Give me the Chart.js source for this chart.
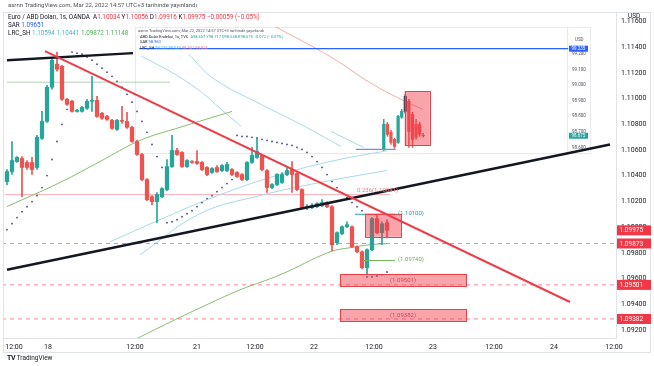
<!DOCTYPE html>
<html lang="tr">
<head>
<meta charset="utf-8">
<title>Euro / ABD Doları, 1s</title>
<script src="https://cdn.jsdelivr.net/npm/chart.js@4.4.1/dist/chart.umd.min.js"></script>
<style>
  body { margin: 0; background: #fff; }
  #wrap { position: relative; width: 654px; height: 366px; overflow: hidden; font-family: Roboto, "Noto Sans", sans-serif; }
  #chart { position: absolute; left: 0; top: 0; }
  .t { position: absolute; white-space: nowrap; color: #131722; line-height: 1; }
  .up { color: #26a69a; }
  .down { color: #f23645; }
</style>
</head>
<body>
<div id="wrap">
  <canvas id="chart" width="654" height="366"></canvas>
  <div class="t" style="left:8px;top:2px;font-size:6px;color:#50535e">asrnn TradingView.com, Mar 22, 2022 14:57 UTC+3 tarihinde yayınlandı</div>
  <div class="t" id="legend1" style="left:8px;top:14px;font-size:6.3px"></div>
  <div class="t" id="legend2" style="left:8px;top:22px;font-size:6.3px"></div>
  <div class="t" id="legend3" style="left:8px;top:30px;font-size:6.3px"></div>
  <div class="t" style="left:138px;top:28.5px;font-size:4px;color:#50535e">asrnn TradingView.com, Mar 22, 2022 14:57 UTC+3 tarihinde yayınlandı</div>
  <div class="t" id="insetLegend1" style="left:140px;top:35px;font-size:4px"></div>
  <div class="t" id="insetLegend2" style="left:140px;top:40px;font-size:4px"></div>
  <div class="t" id="insetLegend3" style="left:140px;top:46px;font-size:4px"></div>
  <div class="t" style="left:7px;top:355px;font-size:7px"><b style="letter-spacing:-0.5px">TV</b> <span style="font-size:6.5px">TradingView</span></div>
</div>
<script>
// EURUSD hourly bars (x = bar position on the hour axis)
const candleStart = 1.4;
const opens = [1.10354, 1.10432, 1.10510, 1.10534, 1.10503, 1.10503, 1.10464, 1.10690, 1.10822, 1.11088,
  1.11267, 1.11251, 1.10994, 1.10978, 1.10900, 1.10900, 1.10924, 1.10978, 1.10986, 1.10885,
  1.10861, 1.10830, 1.10760, 1.10830, 1.10822, 1.10776, 1.10666, 1.10565, 1.10370, 1.10237,
  1.10198, 1.10237, 1.10292, 1.10471, 1.10596, 1.10581, 1.10471, 1.10510, 1.10510, 1.10503,
  1.10464, 1.10425, 1.10464, 1.10440, 1.10440, 1.10448, 1.10425, 1.10409, 1.10370, 1.10503,
  1.10542, 1.10557, 1.10440, 1.10308, 1.10331, 1.10347, 1.10409, 1.10448, 1.10417, 1.10292,
  1.10152, 1.10152, 1.10159, 1.10167, 1.10191, 1.10159, 1.09879, 1.09949, 1.10003, 1.10003,
  1.09847, 1.09808, 1.09684, 1.09824, 1.10066, 1.09957, 1.10034];
const highs = [1.10448, 1.10666, 1.10549, 1.10549, 1.10518, 1.10542, 1.10713, 1.10900, 1.11103, 1.11314,
  1.11361, 1.11259, 1.11002, 1.10986, 1.10916, 1.10939, 1.10994, 1.11173, 1.11017, 1.10893,
  1.10869, 1.10838, 1.10838, 1.10939, 1.10893, 1.10783, 1.10674, 1.10573, 1.10378, 1.10245,
  1.10269, 1.10308, 1.10526, 1.10713, 1.10612, 1.10588, 1.10526, 1.10518, 1.10596, 1.10510,
  1.10471, 1.10464, 1.10479, 1.10487, 1.10503, 1.10456, 1.10432, 1.10417, 1.10510, 1.10620,
  1.10698, 1.10565, 1.10448, 1.10339, 1.10417, 1.10425, 1.10464, 1.10510, 1.10425, 1.10300,
  1.10175, 1.10183, 1.10191, 1.10214, 1.10198, 1.10167, 1.09964, 1.10011, 1.10042, 1.10011,
  1.09855, 1.09816, 1.09832, 1.10074, 1.10097, 1.10042, 1.10056];
const lows = [1.10331, 1.10409, 1.10503, 1.10237, 1.10448, 1.10409, 1.10448, 1.10682, 1.10815, 1.11072,
  1.11212, 1.10986, 1.10947, 1.10893, 1.10893, 1.10893, 1.10916, 1.10900, 1.10854, 1.10838,
  1.10830, 1.10760, 1.10752, 1.10807, 1.10768, 1.10659, 1.10557, 1.10362, 1.10206, 1.10175,
  1.10035, 1.10230, 1.10284, 1.10464, 1.10557, 1.10464, 1.10464, 1.10495, 1.10487, 1.10440,
  1.10401, 1.10417, 1.10425, 1.10432, 1.10432, 1.10401, 1.10386, 1.10362, 1.10362, 1.10495,
  1.10534, 1.10440, 1.10269, 1.10300, 1.10323, 1.10339, 1.10401, 1.10269, 1.10284, 1.10144,
  1.10136, 1.10144, 1.10152, 1.10159, 1.10152, 1.09816, 1.09863, 1.09941, 1.09996, 1.09840,
  1.09801, 1.09676, 1.09629, 1.09816, 1.09949, 1.09863, 1.09916];
const closes = [1.10432, 1.10518, 1.10542, 1.10464, 1.10464, 1.10448, 1.10698, 1.10822, 1.11088, 1.11298,
  1.11228, 1.10994, 1.10955, 1.10900, 1.10908, 1.10931, 1.10978, 1.10986, 1.10861, 1.10846,
  1.10838, 1.10768, 1.10830, 1.10822, 1.10776, 1.10666, 1.10565, 1.10370, 1.10214, 1.10198,
  1.10253, 1.10300, 1.10471, 1.10596, 1.10565, 1.10471, 1.10518, 1.10503, 1.10495, 1.10448,
  1.10409, 1.10456, 1.10432, 1.10479, 1.10487, 1.10409, 1.10393, 1.10370, 1.10503, 1.10557,
  1.10588, 1.10448, 1.10308, 1.10331, 1.10409, 1.10409, 1.10440, 1.10409, 1.10292, 1.10152,
  1.10159, 1.10167, 1.10183, 1.10191, 1.10159, 1.09863, 1.09957, 1.10003, 1.10019, 1.09847,
  1.09808, 1.09684, 1.09824, 1.10066, 1.09957, 1.10027, 1.09975];
// Parabolic SAR, one value per bar
const sar = [1.09980, 1.10027, 1.10074, 1.10120, 1.10159, 1.10198, 1.10245, 1.10308, 1.10401, 1.10526,
  1.10666, 1.10799, 1.10916, 1.11361, 1.11353, 1.11345, 1.11322, 1.11298, 1.11267, 1.11236,
  1.11205, 1.11173, 1.11134, 1.11088, 1.11033, 1.10971, 1.10900, 1.10822, 1.10737, 1.10643,
  1.10549, 1.10464, 1.10035, 1.10042, 1.10058, 1.10081, 1.10105, 1.10128, 1.10159, 1.10191,
  1.10222, 1.10245, 1.10276, 1.10308, 1.10339, 1.10370, 1.10713, 1.10705, 1.10705, 1.10698,
  1.10690, 1.10682, 1.10674, 1.10666, 1.10659, 1.10651, 1.10643, 1.10635, 1.10620, 1.10604,
  1.10581, 1.10549, 1.10510, 1.10464, 1.10409, 1.10354, 1.10308, 1.10269, 1.10230, 1.10191,
  1.10159, 1.10128, 1.09613, 1.09613, 1.09621, 1.09629, 1.09651];

// LRC_SH channel lines
const lrcUpperX = [1.4, 12, 20, 28, 36, 46.4];
const lrcUpperY = [1.10160, 1.10347, 1.10510, 1.10674, 1.10776, 1.10900];
const lrcLowerX = [26, 32, 40, 48, 56, 66, 70, 74, 77.4];
const lrcLowerY = [1.09106, 1.09223, 1.09372, 1.09512, 1.09629, 1.09808, 1.09840, 1.09863, 1.09872];
const lrcBandAX = [22, 32, 42, 54, 66, 77.4];
const lrcBandAY = [1.09886, 1.10058, 1.10222, 1.10386, 1.10510, 1.10594];
const lrcBandBX = [28, 40, 52, 64, 77.4];
const lrcBandBY = [1.09785, 1.10105, 1.10245, 1.10347, 1.10441];

// trend lines drawn on the chart
const topLineX = [1.4, 26.6], topLineY = [1.11298, 1.11353];
const supportX = [1.4, 122], supportY = [1.09668, 1.10643];
const downTrendX = [9, 114], downTrendY = [1.11368, 1.09418];
const peakLevel = 1.11127, peakLevelX = [1.4, 34];
const fibLevel = 1.10253, fibLevelX = [1, 78];
const targetUp = 1.10100, targetUpX = [71, 79];
const targetDown = 1.09740, targetDownX = [72.6, 79];

// horizontal dashed levels and their price tags
const levelValues = [1.09873, 1.09551, 1.09286];
const levelTags = ['1.09873', '1.09501', '1.09382'];
const lastPrice = 1.09975;

const boxes = [
  { from: 68, to: 93.2, top: 1.09637, bottom: 1.09543, text: '(1.09501)' },
  { from: 68, to: 93.2, top: 1.09364, bottom: 1.09270, text: '(1.09382)' },
  { from: 73, to: 80.2, top: 1.10105, bottom: 1.09925, text: '' }
];
const notes = [
  { x: 79.6, y: targetUp, text: '(1.10100)', color: '#26a69a' },
  { x: 79.6, y: targetDown, text: '(1.09740)', color: '#6fb35a' },
  { x: 71.4, y: fibLevel, text: '0.236(1.10041)', color: '#f07b83', above: true }
];

// axes
const timeTickPos = [2.8, 9.6, 27, 39.4, 51, 62.8, 74.8, 86.6, 98.8, 110.8, 122.8];
const timeTickLabels = ['12:00', '18', '12:00', '21', '12:00', '22', '12:00', '23', '12:00', '24', '12:00'];
const priceTicks = [1.092, 1.094, 1.096, 1.098, 1.100, 1.102, 1.104, 1.106, 1.108, 1.110, 1.112, 1.114, 1.116];

// inset: ABD Dolar Endeksi (DXY) hourly
const insetOpen = [98.587, 98.748, 98.697, 98.652, 98.632, 98.794, 98.832, 98.897, 98.813, 98.748, 98.748, 98.677];
const insetHigh = [98.781, 98.761, 98.710, 98.658, 98.806, 98.845, 98.942, 98.910, 98.826, 98.781, 98.761, 98.690];
const insetLow = [98.581, 98.671, 98.619, 98.594, 98.626, 98.787, 98.819, 98.600, 98.600, 98.652, 98.671, 98.665];
const insetClose = [98.748, 98.684, 98.632, 98.606, 98.800, 98.832, 98.929, 98.703, 98.652, 98.665, 98.684, 98.675];
const insetSelected = 6;
const insetLevel = 99.235, insetLevelX = [-68.1, 51.4];
const insetBase = 98.587, insetBaseX = [-7.8, 3.3];
const insetSalmonX = [-30, -14.7, -3.6, 4.7, 10.8];
const insetSalmonY = [99.374, 99.181, 99.013, 98.910, 98.845];
const insetBand1X = [-67.5, -57.8, -50.8, -45.3, -39.7];
const insetBand1Y = [99.187, 99.065, 98.955, 98.845, 98.735];
const insetBand2X = [-54.4, -47.2, -34.2, -23.1, -11.9];
const insetBand2Y = [99.200, 99.039, 98.877, 98.748, 98.606];
const insetBand3X = [-14.7, -5.6];
const insetBand3Y = [98.703, 98.600];
const insetBox = { from: 5.8, to: 12.8, top: 98.961, bottom: 98.613 };
const insetTicks = [99.2, 99.1, 99.0, 98.9, 98.8, 98.7, 98.6];
const insetLast = 98.675;

const GREEN = '#26a69a', RED = '#ef5350';

// legends built from the data
const n = closes.length - 1;
document.getElementById('legend1').innerHTML =
  `Euro / ABD Doları, 1s, OANDA&nbsp; A<span class="down">${opens[n].toFixed(5)}</span> Y<span class="down">${highs[n].toFixed(5)}</span> ` +
  `D<span class="down">${lows[n].toFixed(5)}</span> K<span class="down">${closes[n].toFixed(5)}</span> <span class="down">−0.00059 (−0.05%)</span>`;
document.getElementById('legend2').innerHTML = `SAR <span style="color:#2962ff">${sar[n].toFixed(5)}</span>`;
document.getElementById('legend3').innerHTML =
  `LRC_SH <span style="color:#4fb0d8">${lrcBandAY[lrcBandAY.length - 1].toFixed(5)}</span> <span style="color:#4fb0d8">${lrcBandBY[lrcBandBY.length - 1].toFixed(5)}</span> ` +
  `<span style="color:#4caf50">${lrcLowerY[lrcLowerY.length - 1].toFixed(5)}</span> <span style="color:#4caf50">1.11148</span>`;
document.getElementById('insetLegend1').innerHTML =
  'ABD Dolar Endeksi, 1s, TVC&nbsp; <span class="up">A98.607 Y98.717 D98.638 K98.675 −0.072 (−0.07%)</span>';
document.getElementById('insetLegend2').innerHTML = 'SAR <span style="color:#2962ff">98.960</span>';
document.getElementById('insetLegend3').innerHTML =
  'LRC_SH <span style="color:#4fb0d8">99.235 99.049</span> <span style="color:#f07b83">98.941 98.824</span>';

function pts(xs, ys) {
  return xs.map((x, i) => ({ x, y: ys[i] }));
}
function flat(xs, v) {
  return xs.map(x => ({ x, y: v }));
}
function line(data, color, width, extra) {
  return Object.assign({ type: 'line', data, borderColor: color, borderWidth: width, pointRadius: 0, fill: false }, extra || {});
}

const candleColors = closes.map((c, i) => c >= opens[i] ? GREEN : RED);
const insetColors = insetClose.map((c, i) => i === insetSelected ? '#3b4252' : (c >= insetOpen[i] ? GREEN : RED));

const datasets = [
  // drawings on top
  line(pts(downTrendX, downTrendY), '#ee3d48', 2, { order: 1 }),
  line(pts(topLineX, topLineY), '#131722', 2.5, { order: 1 }),
  line(pts(supportX, supportY), '#131722', 2.5, { order: 1 }),
  line(flat(targetUpX, targetUp), '#26a69a', 1, { order: 2 }),
  line(flat(targetDownX, targetDown), '#6fb35a', 1, { order: 2 }),
  ...levelValues.map(v => line(flat([0.4, 123.2], v), 'rgba(242,54,69,0.6)', 1, { order: 2, borderDash: [4, 4] })),
  // candles
  {
    type: 'bar', data: highs.map((h, i) => ({ x: candleStart + i, y: [lows[i], h] })),
    backgroundColor: candleColors, barThickness: 1, grouped: false, order: 5
  },
  {
    type: 'bar', data: opens.map((o, i) => ({ x: candleStart + i, y: [o, closes[i]] })),
    backgroundColor: candleColors, barThickness: 3.6, grouped: false, order: 4
  },
  // indicators
  line(sar.map((v, i) => ({ x: candleStart + i, y: v })), '#3f4d8c', 0,
    { showLine: false, pointRadius: 0.9, pointBackgroundColor: '#3f4d8c', pointBorderWidth: 0, order: 6 }),
  line(pts(lrcUpperX, lrcUpperY), '#86bd6f', 1, { tension: 0.4, order: 8 }),
  line(pts(lrcLowerX, lrcLowerY), '#86bd6f', 1, { tension: 0.4, order: 8 }),
  line(pts(lrcBandAX, lrcBandAY), '#a9d8ea', 1, { tension: 0.4, order: 8 }),
  line(pts(lrcBandBX, lrcBandBY), '#a9d8ea', 1, { tension: 0.4, order: 8 }),
  line(flat(peakLevelX, peakLevel), 'rgba(120,170,120,0.55)', 1, { order: 8 }),
  line(flat(fibLevelX, fibLevel), 'rgba(242,54,69,0.4)', 1, { order: 8 }),
  // inset (DXY)
  line(flat(insetLevelX, insetLevel), '#2962ff', 1.3, { xAxisID: 'x2', yAxisID: 'y2', order: 3 }),
  line(flat(insetBaseX, insetBase), '#6f8fe8', 1.3, { xAxisID: 'x2', yAxisID: 'y2', order: 3 }),
  line(pts(insetSalmonX, insetSalmonY), 'rgba(226,120,112,0.6)', 1, { xAxisID: 'x2', yAxisID: 'y2', tension: 0.4, order: 9 }),
  line(pts(insetBand1X, insetBand1Y), 'rgba(150,205,225,0.8)', 1, { xAxisID: 'x2', yAxisID: 'y2', tension: 0.4, order: 9 }),
  line(pts(insetBand2X, insetBand2Y), 'rgba(150,205,225,0.8)', 1, { xAxisID: 'x2', yAxisID: 'y2', tension: 0.4, order: 9 }),
  line(pts(insetBand3X, insetBand3Y), 'rgba(150,205,225,0.8)', 1, { xAxisID: 'x2', yAxisID: 'y2', order: 9 }),
  {
    type: 'bar', xAxisID: 'x2', yAxisID: 'y2', data: insetHigh.map((h, i) => ({ x: i, y: [insetLow[i], h] })),
    backgroundColor: insetColors, barThickness: 0.8, grouped: false, order: 5
  },
  {
    type: 'bar', xAxisID: 'x2', yAxisID: 'y2', data: insetOpen.map((o, i) => ({ x: i, y: [o, insetClose[i]] })),
    backgroundColor: insetColors, barThickness: 2.6, grouped: false, order: 4
  }
];

function rect(ctx, xs, ys, b, fill, stroke) {
  const l = xs.getPixelForValue(b.from), r = xs.getPixelForValue(b.to);
  const t = ys.getPixelForValue(b.top), btm = ys.getPixelForValue(b.bottom);
  ctx.fillStyle = fill;
  ctx.fillRect(l, t, r - l, btm - t);
  ctx.strokeStyle = stroke;
  ctx.lineWidth = 1;
  ctx.strokeRect(Math.round(l) + 0.5, Math.round(t) + 0.5, Math.round(r - l), Math.round(btm - t));
  return { cx: (l + r) / 2, cy: (t + btm) / 2 };
}

function tag(ctx, x, y, w, h, bg, text, font) {
  ctx.fillStyle = bg;
  ctx.fillRect(x, y - h / 2, w, h);
  ctx.fillStyle = '#fff';
  ctx.font = font;
  ctx.textAlign = 'left';
  ctx.textBaseline = 'middle';
  ctx.fillText(text, x + 2.5, y + 0.5);
}

const drawings = {
  id: 'drawings',
  beforeDatasetsDraw(chart) {
    const { ctx } = chart;
    ctx.save();
    ctx.strokeStyle = '#e0e3eb';
    ctx.lineWidth = 1;
    ctx.strokeRect(3.5, 12.5, 647, 340);
    ctx.strokeStyle = '#e8eaef';
    ctx.strokeRect(135.5, 27.5, 455, 126);
    ctx.beginPath();
    ctx.moveTo(567.5, 27.5);
    ctx.lineTo(567.5, 153.5);
    ctx.stroke();
    ctx.restore();
  },
  afterDatasetsDraw(chart) {
    const { ctx, scales } = chart;
    ctx.save();
    boxes.forEach(b => {
      const c = rect(ctx, scales.x, scales.y, b, 'rgba(242,54,69,0.45)', '#e8414a');
      if (b.text) {
        ctx.fillStyle = 'rgba(200,40,55,0.75)';
        ctx.font = '6px Roboto';
        ctx.textAlign = 'center';
        ctx.textBaseline = 'middle';
        ctx.fillText(b.text, c.cx, c.cy + 1);
      }
    });
    rect(ctx, scales.x2, scales.y2, insetBox, 'rgba(242,54,69,0.45)', '#e8414a');
    notes.forEach(nt => {
      ctx.fillStyle = nt.color;
      ctx.font = '6px Roboto';
      ctx.textAlign = 'left';
      ctx.textBaseline = 'middle';
      const y = scales.y.getPixelForValue(nt.y) + (nt.above ? -4 : -1);
      ctx.fillText(nt.text, scales.x.getPixelForValue(nt.x), y);
    });
    ctx.restore();
  },
  afterDraw(chart) {
    const { ctx, scales: { y, y2 } } = chart;
    ctx.save();
    ctx.fillStyle = '#131722';
    ctx.font = '6.5px Roboto';
    ctx.textAlign = 'left';
    ctx.textBaseline = 'middle';
    ctx.fillText('USD', 628, 16);
    tag(ctx, 617, y.getPixelForValue(lastPrice), 34, 10, '#f23645', lastPrice.toFixed(5), '6.5px Roboto');
    levelValues.forEach((v, i) => tag(ctx, 617, y.getPixelForValue(v), 34, 10, '#f23645', levelTags[i], '6.5px Roboto'));
    // inset price axis
    ctx.fillStyle = '#50535e';
    ctx.font = '4.5px Roboto';
    ctx.textBaseline = 'middle';
    ctx.fillText('USD', 575, 40);
    insetTicks.forEach(v => ctx.fillText(v.toFixed(3), 572, y2.getPixelForValue(v)));
    tag(ctx, 569, y2.getPixelForValue(insetLevel), 19, 6, '#2962ff', insetLevel.toFixed(3), '4.5px Roboto');
    tag(ctx, 569, y2.getPixelForValue(insetLast), 19, 6, '#26a69a', insetLast.toFixed(3), '4.5px Roboto');
    ctx.restore();
  }
};

new Chart(document.getElementById('chart'), {
  type: 'bar',
  data: { datasets },
  options: {
    responsive: false,
    animation: false,
    events: [],
    layout: { padding: { top: 13, left: 4, right: 0, bottom: 0 } },
    plugins: { legend: { display: false }, tooltip: { enabled: false } },
    scales: {
      x: {
        type: 'linear', min: 0.8, max: 123.2, offset: false,
        grid: { display: false, drawTicks: false, offset: false },
        border: { color: '#e0e3eb' },
        ticks: {
          font: { size: 7, family: 'Roboto' }, color: '#131722', padding: 5,
          maxRotation: 0, autoSkip: false,
          callback: (v, i) => timeTickLabels[i]
        },
        afterBuildTicks: s => { s.ticks = timeTickPos.map(v => ({ value: v })); },
        afterFit: s => { s.height = 28; }
      },
      y: {
        type: 'linear', position: 'right', min: 1.09138, max: 1.11665,
        grid: { display: false, drawTicks: false },
        border: { color: '#e0e3eb' },
        ticks: {
          font: { size: 7, family: 'Roboto' }, color: '#131722', padding: 5,
          callback: v => v.toFixed(5)
        },
        afterBuildTicks: s => { s.ticks = priceTicks.map(v => ({ value: v })); },
        afterFit: s => { s.width = 38; }
      },
      x2: { type: 'linear', display: false, min: -105.8, max: 64.7, offset: false },
      y2: { type: 'linear', display: false, min: 97.374, max: 99.4645 }
    }
  },
  plugins: [drawings]
});
</script>
</body>
</html>
